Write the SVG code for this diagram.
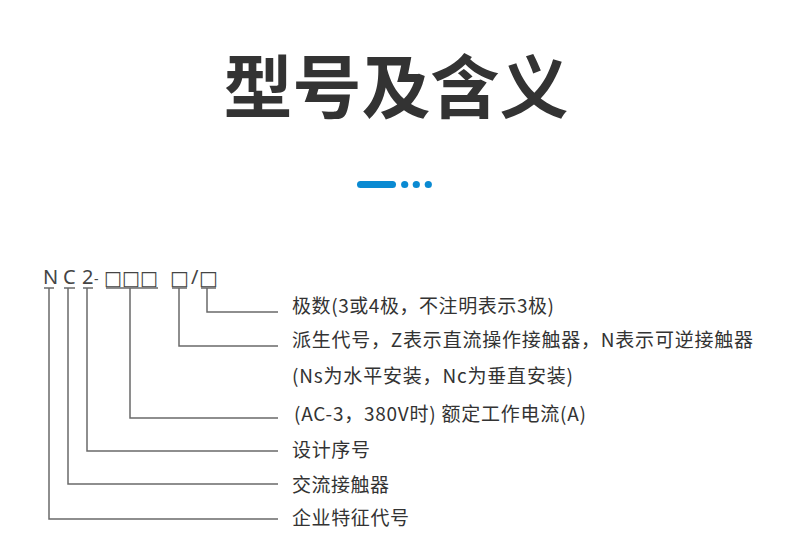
<svg xmlns="http://www.w3.org/2000/svg" width="790" height="535" viewBox="0 0 790 535">
<style>
.title{font-family:"Noto Sans CJK SC","Noto Sans",sans-serif;font-size:69px;font-weight:700;fill:#333333}
.code{font-family:"Noto Sans","Noto Sans CJK SC",sans-serif;font-size:20px;fill:#444444}
.box{font-family:"DejaVu Sans",sans-serif;font-size:20px;fill:#444444}
.lbl{font-family:"Noto Sans CJK SC","Noto Sans",sans-serif;font-size:19px;fill:#333333}
.conn{fill:none;stroke:#6a6a6a;stroke-width:1.5}
.ul{stroke:#6a6a6a;stroke-width:1.5}
.accent{fill:#0a8ad2}
</style>
<rect width="790" height="535" fill="#ffffff"/>
<g id="title">
<text class="title" x="396" y="113" text-anchor="middle">型号及含义</text>
</g>
<g id="decoration">
<rect class="accent" x="357" y="181" width="39" height="7" rx="3.5"/>
<circle class="accent" cx="404.7" cy="184.5" r="3.6"/>
<circle class="accent" cx="416.3" cy="184.5" r="3.6"/>
<circle class="accent" cx="428.3" cy="184.5" r="3.6"/>
</g>
<g id="code">
<text class="code" x="43" y="284">N</text>
<text class="code" x="63" y="284">C</text>
<text class="code" x="82" y="284">2</text>
<text class="code" x="94" y="284" style="font-size:14px">-</text>
<text class="box" x="104" y="285" textLength="54" lengthAdjust="spacingAndGlyphs">□□□</text>
<text class="box" x="170" y="285">□</text>
<text class="code" x="191" y="284">/</text>
<text class="box" x="199" y="285">□</text>
<line class="ul" x1="44" y1="288" x2="54" y2="288"/>
<line class="ul" x1="64" y1="288" x2="75" y2="288"/>
<line class="ul" x1="83" y1="288" x2="93" y2="288"/>
<line class="ul" x1="106" y1="288" x2="158" y2="288"/>
<line class="ul" x1="172" y1="288" x2="187" y2="288"/>
<line class="ul" x1="201" y1="288" x2="216" y2="288"/>
</g>
<g id="connectors">
<path class="conn" d="M207 288V312H278"/>
<path class="conn" d="M179 288V346H278"/>
<path class="conn" d="M130 288V418H278"/>
<path class="conn" d="M87 288V451H278"/>
<path class="conn" d="M68 288V484H278"/>
<path class="conn" d="M49 288V519H278"/>
</g>
<g id="label-poles"><text class="lbl" x="292" y="313" textLength="262" lengthAdjust="spacing">极数(3或4极，不注明表示3极)</text></g>
<g id="label-derived"><text class="lbl" x="292" y="347" textLength="461" lengthAdjust="spacing">派生代号，Z表示直流操作接触器，N表示可逆接触器</text></g>
<g id="label-derived2"><text class="lbl" x="292" y="383" textLength="281" lengthAdjust="spacing">(Ns为水平安装，Nc为垂直安装)</text></g>
<g id="label-current"><text class="lbl" x="294" y="421" textLength="292" lengthAdjust="spacing">(AC-3，380V时) 额定工作电流(A)</text></g>
<g id="label-design"><text class="lbl" x="292" y="457" textLength="78" lengthAdjust="spacing">设计序号</text></g>
<g id="label-ac"><text class="lbl" x="292" y="492" textLength="97" lengthAdjust="spacing">交流接触器</text></g>
<g id="label-company"><text class="lbl" x="292" y="525" textLength="117" lengthAdjust="spacing">企业特征代号</text></g>
</svg>
